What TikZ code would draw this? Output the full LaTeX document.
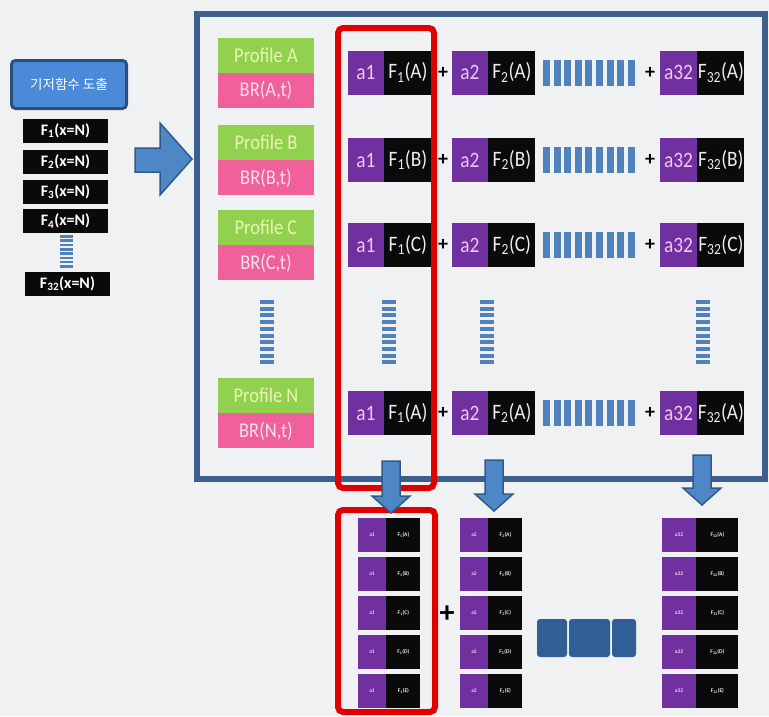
\documentclass[tikz,border=0pt]{standalone}
\usepackage{fontspec}
\setmainfont{Carlito}
\newfontfamily\narrowfont{Carlito}[FakeStretch=0.88]
\newfontfamily\krfont{Noto Sans CJK KR}
\usetikzlibrary{positioning}
\definecolor{bgc}{HTML}{F0F1F2}
\definecolor{framec}{HTML}{3D5F8C}
\definecolor{titleblue}{HTML}{4A8AD8}
\definecolor{titledark}{HTML}{2D4F7C}
\definecolor{profgreen}{HTML}{92D050}
\definecolor{proftext}{HTML}{E8F7B0}
\definecolor{brpink}{HTML}{F0609A}
\definecolor{brtext}{HTML}{FDE0EE}
\definecolor{coefpurple}{HTML}{7030A0}
\definecolor{coeftext}{HTML}{F0C8F0}
\definecolor{funcblack}{HTML}{0A0A0A}
\definecolor{functext}{HTML}{ECECEC}
\definecolor{dashc}{HTML}{4F81BD}
\definecolor{redc}{HTML}{E00000}
\definecolor{arrowblue}{HTML}{4F86C6}
\definecolor{arrowdark}{HTML}{2E5B8C}
\definecolor{blockc}{HTML}{2F5F95}

\begin{document}
\begin{tikzpicture}[x=1pt,y=-1pt]
\tikzstyle{titlebox}=[fill=titleblue, draw=titledark, line width=3pt, rounded corners=4pt, minimum width=115pt, minimum height=48pt, text=white, font=\krfont\fontsize{13.5}{13.5}\selectfont]
\tikzstyle{fbox}=[fill=funcblack, text=white, minimum width=85pt, minimum height=24pt, inner sep=0pt, font=\fontsize{16}{16}\selectfont\bfseries]
\tikzstyle{profile}=[fill=profgreen, text=proftext, minimum width=96pt, minimum height=35pt, inner sep=0pt, font=\narrowfont\fontsize{21}{21}\selectfont]
\tikzstyle{brate}=[profile, fill=brpink, text=brtext]
\tikzstyle{coef}=[fill=coefpurple, text=coeftext, minimum width=36pt, minimum height=44pt, inner sep=0pt, font=\narrowfont\fontsize{22}{22}\selectfont]
\tikzstyle{func}=[coef, fill=funcblack, text=functext, minimum width=47pt]
\tikzstyle{plus}=[inner sep=0pt, font=\fontsize{20}{20}\selectfont\bfseries]
\tikzstyle{smallcoef}=[fill=coefpurple, text=coeftext, minimum width=28pt, minimum height=34pt, inner sep=0pt, font=\fontsize{5.5}{5.5}\selectfont\bfseries]
\tikzstyle{smallfunc}=[smallcoef, fill=funcblack, text=functext, minimum width=34pt]
\tikzstyle{redbox}=[draw=redc, line width=6pt, rounded corners=5pt]
\tikzstyle{blockarrow}=[fill=arrowblue, draw=arrowdark, line width=1.5pt]

\useasboundingbox (0,0) rectangle (769,716);
\fill[bgc] (0,0) rectangle (769,716);
\draw[framec, line width=6pt] (196.5,13.5) rectangle (765,479);

% left column
\node[titlebox] (title) at (69,84.5) {기저함수 도출};
\foreach \i/\y in {1/130.5,2/161.5,3/191.5,4/221}
  \node[fbox] (F\i) at (65.5,\y) {F\textsubscript{\i}(x=N)};
\node[fbox] (F32) at (67.5,283.5) {F\textsubscript{32}(x=N)};
\foreach \k in {0,...,7}
  \fill[dashc] (60,235+\k*4.3) rectangle ++(13,2.6);
\draw[blockarrow] (135,148) -- (160,148) -- (160,123) -- (192,159) -- (160,195) -- (160,172) -- (135,172) -- cycle;

% profiles and rows
\foreach \r/\y/\s in {A/72.5/A,B/160/B,C/245/C,N/413/A} {
  \node[profile] (P\r) at (266,\y-17.5) {Profile \r};
  \node[brate, below=0pt of P\r] (BR\r) {BR(\r,t)};
  \node[coef] (a1\r) at (366,\y) {a1};
  \node[func, right=0pt of a1\r] (f1\r) {F\textsubscript{1}(\s)};
  \node[plus] (p1\r) at (443,\y) {+};
  \node[coef] (a2\r) at (470,\y) {a2};
  \node[func, right=0pt of a2\r] (f2\r) {F\textsubscript{2}(\s)};
  \foreach \k in {0,...,8}
    \fill[dashc] (543+\k*10.6,\y-13) rectangle ++(7,26);
  \node[plus] (p32\r) at (650,\y) {+};
  \node[coef, minimum width=37pt] (a32\r) at (678.5,\y) {a32};
  \node[func, right=0pt of a32\r] (f32\r) {F\textsubscript{32}(\s)};
}
\foreach \x in {267,389,487,703}
  \foreach \k in {0,...,9}
    \fill[dashc] (\x-7,300+\k*6.7) rectangle ++(14,4);

% bottom columns
\foreach \i/\r in {1/A,2/B,3/C,4/D,5/E} {
  \node[smallcoef] (b1\r) at (372,534.5+\i*39.1-39.1) {a1};
  \node[smallfunc, right=0pt of b1\r] (c1\r) {F\textsubscript{1}(\r)};
  \node[smallcoef] (b2\r) at (474,534.5+\i*39.1-39.1) {a2};
  \node[smallfunc, right=0pt of b2\r] (c2\r) {F\textsubscript{2}(\r)};
  \node[smallcoef, minimum width=34pt] (b32\r) at (679,534.5+\i*39.1-39.1) {a32};
  \node[smallfunc, minimum width=42pt, right=0pt of b32\r] (c32\r) {F\textsubscript{32}(\r)};
}
\node[inner sep=0pt, font=\fontsize{30}{30}\selectfont\bfseries] (bigplus) at (447,614) {+};
\fill[blockc, rounded corners=3pt] (537,619) rectangle (567,657);
\fill[blockc, rounded corners=3pt] (569,619) rectangle (610,657);
\fill[blockc, rounded corners=3pt] (612,619) rectangle (636,657);

% red boxes
\draw[redbox] (338,28) rectangle (434,488);
\draw[redbox] (338,510) rectangle (435,712);

% down arrows
\foreach \x/\t/\h in {391/461/496,494/460/494,702/455/488}
  \draw[blockarrow] (\x-9,\t) -- (\x+9,\t) -- (\x+9,\h) -- (\x+19,\h) -- (\x,\h+17) -- (\x-19,\h) -- (\x-9,\h) -- cycle;
\end{tikzpicture}
\end{document}
